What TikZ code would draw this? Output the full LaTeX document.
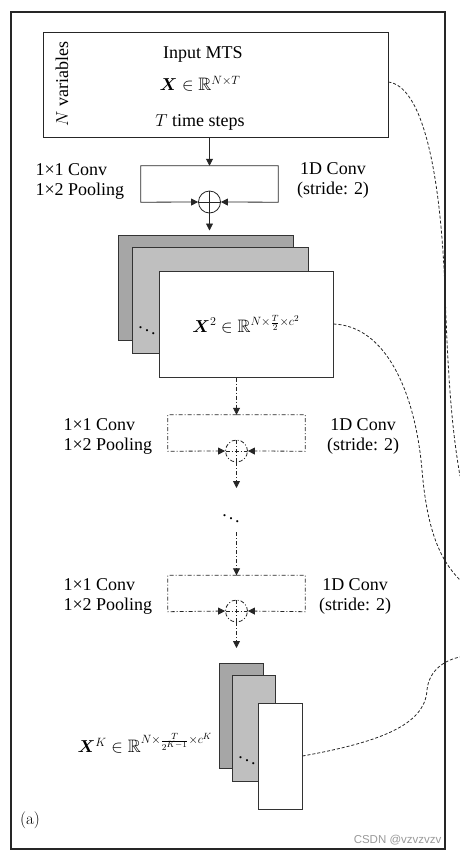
\documentclass[tikz,border=0pt]{standalone}
\usepackage{amsmath}
\usepackage{amssymb}
\usepackage{bm}
\usepackage{fontspec}
\newfontfamily\tnr{Liberation Serif}
\newfontfamily\wmfont{Liberation Sans}
\usetikzlibrary{arrows.meta,positioning,calc}

\begin{document}
\begin{tikzpicture}[x=1pt, y=-1pt, >={Triangle[length=7pt,width=7pt]},
  font=\tnr\fontsize{18}{20}\selectfont,
  line/.style={draw=black!85, line width=0.8pt},
  dashdot/.style={dash pattern=on 4pt off 2pt on 1pt off 2pt},
  link/.style={draw=black!85, line width=0.8pt, dash pattern=on 3pt off 2pt},
  conv/.style={rectangle, minimum width=137pt, minimum height=36pt, inner sep=0pt},
  oplus/.style={circle, draw=black!85, line width=0.8pt, #1, minimum size=22pt, inner sep=0pt,
    path picture={\draw[black!85, line width=0.8pt, #1]
      (path picture bounding box.north) -- (path picture bounding box.south)
      (path picture bounding box.west) -- (path picture bounding box.east);}},
  oplus/.default=solid,
  fmap/.style={rectangle, draw=black!80, line width=1pt, inner sep=0pt},
  lab/.style={align=left, anchor=west}]
  \useasboundingbox (0,0) rectangle (460,855);

  % outer frame
  \draw[black!85, line width=2pt] (11,12) rectangle (445,849);

  % input series
  \node[line, minimum width=345pt, minimum height=105pt] (in) at (215.5,84.5) {};
  \node (intitle) at (203,54) {Input MTS};
  \node (inX) at (200,84) {$\bm{X}\in\mathbb{R}^{N\times T}$};
  \node (insteps) at (200,122) {$T$ time steps};
  \node[rotate=90] (invar) at (62,84) {$N$ variables};

  % first block
  \node[conv] (cv1) at (209.5,184) {};
  \node[oplus] (p1) at (209.5,202) {};
  \draw[line,->] (in.south -| cv1.north) -- (cv1.north);
  \draw[line,->] (cv1.north) -| (cv1.south west) -- (p1.west);
  \draw[line,->] (cv1.north) -| (cv1.south east) -- (p1.east);
  \node[lab] (cv1l) at (32,181) {1×1 Conv\\1×2 Pooling};
  \node[align=center] (cv1r) at (333,180) {1D Conv\\(stride: 2)};

  % feature maps, level 2
  \node[fmap, fill=black!35, minimum width=175pt, minimum height=105pt] (f1a) at (205.5,287.5) {};
  \node[fmap, fill=black!25, minimum width=176pt, minimum height=106pt] (f1b) at (220,300) {};
  \node[fmap, fill=white, minimum width=174pt, minimum height=106pt] (f1c) at (246,324)
    {$\bm{X}^2\in\mathbb{R}^{N\times\frac{T}{2}\times c^2}$};
  \node (f1dots) at (147,328) {$\ddots$};
  \draw[line,->, shorten >=4pt] (p1.south) -- (p1.south |- f1a.north);

  % second block
  \node[conv] (cv2) at (236.5,433) {};
  \node[oplus=dashdot] (p2) at (236.5,451) {};
  \draw[line,dashdot,->] (f1c.south -| cv2.north) -- (cv2.north);
  \draw[line,dashdot,->] (cv2.north) -| (cv2.south west) -- (p2.west);
  \draw[line,dashdot,->] (cv2.north) -| (cv2.south east) -- (p2.east);
  \coordinate (a2) at (236.5,488);
  \draw[line,dashdot,->] (p2.south) -- (a2);
  \node[lab] (cv2l) at (60,436) {1×1 Conv\\1×2 Pooling};
  \node[align=center] (cv2r) at (363,436) {1D Conv\\(stride: 2)};

  \node (mdots) at (231,516) {$\ddots$};

  % last block
  \node[conv] (cv3) at (236.5,593.5) {};
  \node[oplus=dashdot] (p3) at (236.5,611) {};
  \coordinate (a3) at (236.5,532);
  \draw[line,dashdot,->] (a3) -- (cv3.north);
  \draw[line,dashdot,->] (cv3.north) -| (cv3.south west) -- (p3.west);
  \draw[line,dashdot,->] (cv3.north) -| (cv3.south east) -- (p3.east);
  \node[lab] (cv3l) at (60,596) {1×1 Conv\\1×2 Pooling};
  \node[align=center] (cv3r) at (355,596) {1D Conv\\(stride: 2)};

  % feature maps, level K
  \node[fmap, fill=black!35, minimum width=44pt, minimum height=105pt] (fKa) at (241,715.5) {};
  \node[fmap, fill=black!25, minimum width=43pt, minimum height=106pt] (fKb) at (253.5,728) {};
  \node[fmap, fill=white, minimum width=44pt, minimum height=106pt] (fKc) at (280,756) {};
  \node (fKdots) at (247,758) {$\ddots$};
  \coordinate (a4) at (236.5,648);
  \draw[line,dashdot,->] (p3.south) -- (a4);
  \node[anchor=east] (xK) at (216,743)
    {$\bm{X}^K\in\mathbb{R}^{N\times\frac{T}{2^{K-1}}\times c^K}$};

  % links to the right
  \coordinate (e1) at (460,476);
  \coordinate (e2) at (460,580);
  \coordinate (e3) at (460,657);
  \draw[link] (in.east |- 0,82) .. controls (420,86) and (440,160) .. (445,290)
    .. controls (448,380) and (452,430) .. (e1);
  \draw[link] (f1c.east) .. controls (385,326) and (415,390) .. (422,470)
    .. controls (427,530) and (440,560) .. (e2);
  \draw[link] (fKc.east) .. controls (380,742) and (425,725) .. (427,690)
    .. controls (429,670) and (445,660) .. (e3);

  \node[font=\fontsize{17}{20}\selectfont] (tag) at (30,820) {(a)};
  \node[anchor=base east, text=black!40, font=\wmfont\fontsize{11.5}{13}\selectfont] (wm) at (445,843) {CSDN @vzvzvzv};
\end{tikzpicture}
\end{document}
